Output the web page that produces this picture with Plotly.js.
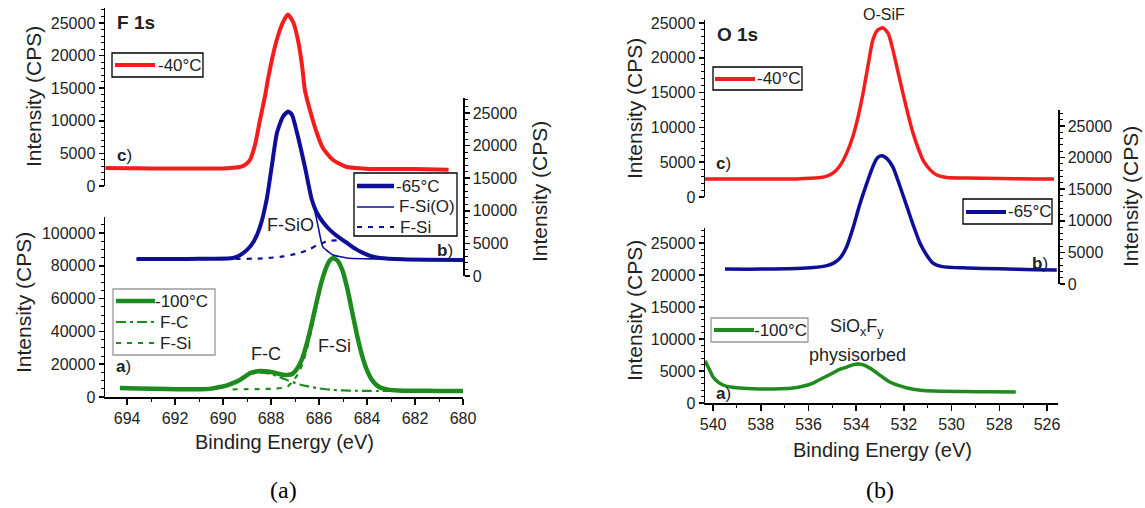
<!DOCTYPE html>
<html><head><meta charset="utf-8">
<script src="https://cdn.plot.ly/plotly-3.0.1.min.js"></script>
<style>html,body{margin:0;padding:0;background:#fff}#chart{width:1145px;height:508px}</style>
</head><body><div id="chart"></div>
<script>
// ---------- Panel (a): F 1s ----------
const f1s_m40_x = [694.9, 694.0, 693.0, 692.0, 691.0, 690.0, 689.6, 689.3, 689.09, 688.88, 688.67, 688.46, 688.25, 688.13, 687.92, 687.7, 687.5, 687.3, 687.08, 686.88, 686.71, 686.59, 686.38, 686.09, 685.84, 685.42, 684.84, 684.2, 683.46, 682.5, 681.5, 680.6];
const f1s_m40_y = [2760, 2720, 2700, 2680, 2680, 2700, 2800, 2910, 3220, 3990, 6290, 10120, 13800, 16300, 20100, 23160, 25150, 26300, 25150, 22400, 18560, 14720, 11660, 8130, 5830, 3990, 2910, 2700, 2600, 2600, 2580, 2500];

const f1s_m65_x = [693.6, 692.5, 691.5, 690.5, 689.59, 689.3, 689.0, 688.71, 688.46, 688.17, 687.96, 687.75, 687.5, 687.29, 687.13, 686.92, 686.59, 686.3, 686.09, 685.8, 685.55, 685.2, 684.84, 684.5, 684.17, 683.8, 683.46, 682.5, 681.5, 680.0];
const f1s_m65_y = [2620, 2600, 2620, 2650, 2770, 3200, 4000, 5380, 7540, 12000, 17070, 22000, 24460, 25230, 24760, 22000, 16770, 11700, 9700, 8100, 7080, 6000, 5080, 4200, 3540, 3000, 2770, 2550, 2480, 2460];

const f1s_fsio_x = [693.6, 692.0, 690.5, 689.59, 689.3, 689.0, 688.71, 688.46, 688.17, 687.96, 687.75, 687.5, 687.29, 687.13, 686.92, 686.59, 686.25, 686.05, 685.84, 685.6, 685.42, 685.1, 684.84, 684.2, 683.46, 682.0, 680.0];
const f1s_fsio_y = [2600, 2600, 2620, 2700, 3150, 3950, 5300, 7450, 11850, 16900, 21800, 24300, 25000, 24500, 21600, 16200, 11200, 7840, 4460, 3700, 3230, 2950, 2770, 2650, 2615, 2500, 2460];

const f1s_fsi65_x = [693.6, 691.5, 689.6, 688.5, 688.0, 687.5, 687.0, 686.8, 686.4, 686.1, 685.8, 685.55, 685.3, 685.0, 684.7, 684.4, 684.0, 683.6, 683.0, 682.0, 680.0];
const f1s_fsi65_y = [2600, 2600, 2615, 2680, 2800, 3000, 3350, 3540, 4100, 4700, 5150, 5380, 5450, 5250, 4750, 4100, 3300, 2850, 2600, 2500, 2460];

const f1s_m100_x = [694.3, 693.5, 692.34, 691.5, 690.96, 690.5, 690.13, 689.8, 689.59, 689.3, 689.09, 688.88, 688.67, 688.46, 688.25, 688.0, 687.75, 687.5, 687.3, 687.1, 686.9, 686.7, 686.5, 686.3, 686.1, 685.9, 685.7, 685.55, 685.42, 685.22, 685.02, 684.82, 684.62, 684.42, 684.22, 684.02, 683.82, 683.62, 683.42, 683.12, 682.7, 682.0, 681.0, 680.0];
const f1s_m100_y = [5490, 5200, 4880, 4700, 4700, 5100, 6100, 7300, 8500, 10400, 12500, 14450, 15400, 15860, 15700, 15200, 14400, 13600, 13500, 14200, 17500, 23500, 33000, 45000, 58000, 70000, 79000, 83300, 84800, 83000, 77000, 66000, 52000, 38000, 26000, 17000, 11000, 7500, 5600, 4500, 4000, 3800, 3700, 3660];

const f1s_fc_x = [690.1, 689.8, 689.59, 689.3, 689.09, 688.88, 688.67, 688.46, 688.25, 688.0, 687.75, 687.5, 687.34, 687.1, 686.8, 686.5, 686.1, 685.8, 685.42, 685.0, 684.5, 684.0, 683.5, 683.0];
const f1s_fc_y = [5800, 7000, 8100, 9900, 12000, 13900, 14700, 14900, 14700, 14000, 12900, 11300, 10400, 9100, 7600, 6600, 5500, 4900, 4300, 4000, 3800, 3700, 3660, 3660];

const f1s_fsi100_x = [689.6, 689.0, 688.5, 688.0, 687.5, 687.3, 687.1, 686.9, 686.7, 686.5, 686.3, 686.1, 685.9, 685.7, 685.55, 685.42, 685.22, 685.02, 684.82, 684.62, 684.42, 684.22, 684.02, 683.82, 683.62, 683.42, 683.12, 682.8];
const f1s_fsi100_y = [4700, 4750, 4850, 5000, 5600, 6500, 9500, 13500, 19800, 29500, 42000, 55800, 68200, 78000, 82700, 84250, 82700, 76700, 65800, 51850, 37900, 25900, 16900, 10950, 7450, 5550, 4300, 3800];

// ---------- Panel (b): O 1s ----------
const o1s_m40_x = [540.34, 539.5, 538.5, 537.5, 536.5, 535.6, 535.23, 534.95, 534.68, 534.4, 534.14, 533.93, 533.72, 533.5, 533.3, 533.1, 532.88, 532.66, 532.46, 532.25, 532.04, 531.83, 531.62, 531.4, 531.2, 530.9, 530.62, 530.2, 529.36, 528.0, 526.5, 525.71];
const o1s_m40_y = [2600, 2590, 2580, 2600, 2600, 2750, 3000, 3500, 4500, 6300, 8700, 11400, 14800, 19000, 22600, 24000, 24300, 23500, 21100, 18000, 14900, 11900, 9200, 7000, 5300, 3900, 3160, 2800, 2730, 2650, 2600, 2590];

const o1s_m65_x = [539.5, 538.5, 537.5, 536.5, 535.8, 535.23, 534.95, 534.68, 534.4, 534.14, 533.85, 533.55, 533.3, 533.1, 532.92, 532.7, 532.46, 532.17, 531.87, 531.6, 531.33, 531.05, 530.78, 530.4, 529.36, 528.0, 526.5, 525.59];
const o1s_m65_y = [2370, 2350, 2380, 2450, 2600, 2900, 3300, 4100, 5900, 8800, 12600, 16000, 18600, 20000, 20300, 19800, 18500, 15500, 12200, 9200, 6500, 4600, 3300, 2750, 2530, 2400, 2250, 2210];

const o1s_m100_x = [540.34, 540.15, 540.0, 539.8, 539.59, 539.2, 538.87, 538.3, 537.74, 537.2, 536.65, 536.2, 535.81, 535.4, 534.98, 534.7, 534.39, 534.15, 533.93, 533.7, 533.5, 533.3, 532.95, 532.59, 532.2, 531.87, 531.3, 530.78, 529.5, 528.3, 527.31];
const o1s_m100_y = [6600, 5200, 4060, 3300, 2810, 2450, 2340, 2220, 2180, 2220, 2340, 2650, 3120, 3900, 4680, 5250, 5620, 5950, 6090, 5950, 5600, 5150, 4200, 3280, 2700, 2340, 2000, 1870, 1800, 1750, 1720];

// ---------- ranges ----------
const xRangeA = [694.92, 680];
const xRangeB = [540.34, 525.54];

const W = 1145, H = 508;
const px = v => v / W;
const py = v => 1 - v / H;

const RED = '#f41c1c', BLUE = '#0e0e98', GREEN = '#1d8b1d';
const FONT = 'Liberation Sans, Arial, sans-serif';
const TXT = '#222';

function yax(domTop, domBot, range, dtick, minor, side, anchor) {
  return {
    domain: [py(domBot), py(domTop)], range: range, autorange: false,
    anchor: anchor, side: side || 'left',
    showline: true, linecolor: '#000', linewidth: 1.5,
    ticks: 'outside', ticklen: 5, tickwidth: 1.5, tickcolor: '#000',
    minor: {dtick: minor, ticks: 'outside', ticklen: 3, tickwidth: 1, tickcolor: '#000', showgrid: false},
    dtick: dtick, tick0: 0, tickformat: 'd',
    showgrid: false, zeroline: false,
    tickfont: {family: FONT, size: 16, color: TXT}
  };
}
function xax(left, right, range, anchor) {
  return {
    domain: [px(left), px(right)], range: range, autorange: false, anchor: anchor,
    showline: true, linecolor: '#000', linewidth: 1.5,
    ticks: 'outside', ticklen: 6, tickwidth: 1.5, tickcolor: '#000',
    minor: {dtick: 1, ticks: 'outside', ticklen: 3, tickwidth: 1, tickcolor: '#000', showgrid: false},
    dtick: 2, tick0: 0, showgrid: false, zeroline: false,
    tickfont: {family: FONT, size: 16, color: TXT}
  };
}

const sp = {shape: 'spline', smoothing: 0.6};
const DASH = '5px,6px', DASHDOT = '10px,4px,3px,4px';
const traces = [
  {x: f1s_m40_x, y: f1s_m40_y, xaxis: 'x', yaxis: 'y2', mode: 'lines', name: '-40°C', line: Object.assign({color: RED, width: 4}, sp)},
  {x: f1s_fsi65_x, y: f1s_fsi65_y, xaxis: 'x', yaxis: 'y3', mode: 'lines', name: 'F-Si', line: Object.assign({color: BLUE, width: 2.2, dash: DASH}, sp)},
  {x: f1s_fsio_x, y: f1s_fsio_y, xaxis: 'x', yaxis: 'y3', mode: 'lines', name: 'F-Si(O)', line: Object.assign({color: BLUE, width: 1.6}, sp)},
  {x: f1s_m65_x, y: f1s_m65_y, xaxis: 'x', yaxis: 'y3', mode: 'lines', name: '-65°C', line: Object.assign({color: BLUE, width: 4}, sp)},
  {x: f1s_fc_x, y: f1s_fc_y, xaxis: 'x', yaxis: 'y', mode: 'lines', name: 'F-C', line: Object.assign({color: GREEN, width: 2.2, dash: DASHDOT}, sp)},
  {x: f1s_fsi100_x, y: f1s_fsi100_y, xaxis: 'x', yaxis: 'y', mode: 'lines', name: 'F-Si', line: Object.assign({color: GREEN, width: 2.2, dash: DASH}, sp)},
  {x: f1s_m100_x, y: f1s_m100_y, xaxis: 'x', yaxis: 'y', mode: 'lines', name: '-100°C', line: Object.assign({color: GREEN, width: 4.5}, sp)},
  {x: o1s_m40_x, y: o1s_m40_y, xaxis: 'x2', yaxis: 'y5', mode: 'lines', name: '-40°C', line: Object.assign({color: RED, width: 3.5}, sp)},
  {x: o1s_m65_x, y: o1s_m65_y, xaxis: 'x2', yaxis: 'y6', mode: 'lines', name: '-65°C', line: Object.assign({color: BLUE, width: 3.5}, sp)},
  {x: o1s_m100_x, y: o1s_m100_y, xaxis: 'x2', yaxis: 'y4', mode: 'lines', name: '-100°C', line: Object.assign({color: GREEN, width: 3.5}, sp)}
];

function ann(text, x, y, size, opts) {
  return Object.assign({text: text, x: px(x), y: py(y), xref: 'paper', yref: 'paper',
    showarrow: false, xanchor: 'center', yanchor: 'middle',
    font: {family: FONT, size: size, color: TXT}}, opts || {});
}

// legend boxes drawn as shapes + text
const shapes = [];
const legendTexts = [];
function legendBox(x0, y0, x1, y1, border) {
  shapes.push({type: 'rect', xref: 'paper', yref: 'paper', x0: px(x0), x1: px(x1), y0: py(y1), y1: py(y0),
    line: {color: border, width: 1.3}, fillcolor: '#fff', layer: 'above'});
}
function legendRow(lx0, lx1, y, color, width, dash, label, tx) {
  shapes.push({type: 'line', xref: 'paper', yref: 'paper', x0: px(lx0), x1: px(lx1), y0: py(y), y1: py(y),
    line: {color: color, width: width, dash: dash || 'solid'}, layer: 'above'});
  legendTexts.push(ann(label, tx, y, 17, {xanchor: 'left'}));
}
// panel a
legendBox(112, 53, 203, 77, '#000');
legendRow(115, 155, 65, RED, 4, null, '-40°C', 156);
legendBox(354, 173, 457, 236, '#000');
legendRow(357, 394, 186, BLUE, 4.5, null, '-65°C', 394);
legendRow(357, 394, 207, BLUE, 1.6, null, 'F-Si(O)', 397);
legendRow(357, 394, 227, BLUE, 2.2, DASH, 'F-Si', 398);
legendBox(113, 289, 215, 355, '#9a9a9a');
legendRow(116, 155, 301, GREEN, 4.5, null, '-100°C', 153);
legendRow(116, 155, 322, GREEN, 2.2, DASHDOT, 'F-C', 158);
legendRow(116, 155, 343, GREEN, 2.2, DASH, 'F-Si', 158);
// panel b
legendBox(713, 67, 802, 90, '#000');
legendRow(715, 755, 79, RED, 4, null, '-40°C', 755);
legendBox(963, 199, 1052, 224, '#000');
legendRow(966, 1006, 212, BLUE, 4, null, '-65°C', 1006);
legendBox(711, 318, 808, 342, '#9a9a9a');
legendRow(714, 754, 330, GREEN, 4, null, '-100°C', 752);

const annotations = [
  ann('<b>F 1s</b>', 136, 22, 19),
  ann('<b>c</b>)', 124, 155, 17),
  ann('<b>b</b>)', 445, 250, 17),
  ann('<b>a</b>)', 123, 366, 17),
  ann('F-SiO', 290, 225, 18),
  ann('F-C', 266, 354, 18),
  ann('F-Si', 334, 346, 18),
  ann('Intensity (CPS)', 33, 97, 21, {textangle: -90}),
  ann('Intensity (CPS)', 23, 303, 21, {textangle: -90}),
  ann('Intensity (CPS)', 539, 192, 21, {textangle: -90}),
  ann('Binding Energy (eV)', 284, 442, 20),
  ann('<b>O 1s</b>', 737, 35, 19),
  ann('<b>c</b>)', 723, 163, 17),
  ann('<b>b</b>)', 1040, 263, 17),
  ann('<b>a</b>)', 723, 393, 17),
  ann('O-SiF', 884, 15, 16),
  ann('SiO<sub>x</sub>F<sub>y</sub>', 857, 327, 18),
  ann('physisorbed', 858, 355, 18),
  ann('Intensity (CPS)', 634, 109, 21, {textangle: -90}),
  ann('Intensity (CPS)', 634, 311, 21, {textangle: -90}),
  ann('Intensity (CPS)', 1130, 197, 21, {textangle: -90}),
  ann('Binding Energy (eV)', 882, 450, 20),
  ann('(a)', 283, 490, 24, {font: {family: 'Liberation Serif, Times New Roman, serif', size: 24, color: '#000'}}),
  ann('(b)', 880, 490, 24, {font: {family: 'Liberation Serif, Times New Roman, serif', size: 24, color: '#000'}})
].concat(legendTexts);

const layout = {
  width: W, height: H, margin: {l: 0, r: 0, t: 0, b: 0},
  paper_bgcolor: '#fff', plot_bgcolor: 'rgba(0,0,0,0)',
  font: {family: FONT, color: TXT},
  showlegend: false,
  xaxis: xax(105, 463, xRangeA, 'y'),
  yaxis: yax(217, 397, [0, 109800], 20000, 5000, 'left', 'x'),
  yaxis2: yax(8, 186, [0, 27300], 5000, 1000, 'left', 'x'),
  yaxis3: yax(98, 276, [0, 27300], 5000, 1000, 'right', 'x'),
  xaxis2: xax(705, 1058, xRangeB, 'y4'),
  yaxis4: yax(228, 403, [0, 27340], 5000, 1000, 'left', 'x2'),
  yaxis5: yax(20, 197, [0, 25430], 5000, 1000, 'left', 'x2'),
  yaxis6: yax(110, 284, [0, 27530], 5000, 1000, 'right', 'x2'),
  shapes: shapes,
  annotations: annotations
};

Plotly.newPlot('chart', traces, layout, {staticPlot: true, displayModeBar: false});
</script>
</body></html>
